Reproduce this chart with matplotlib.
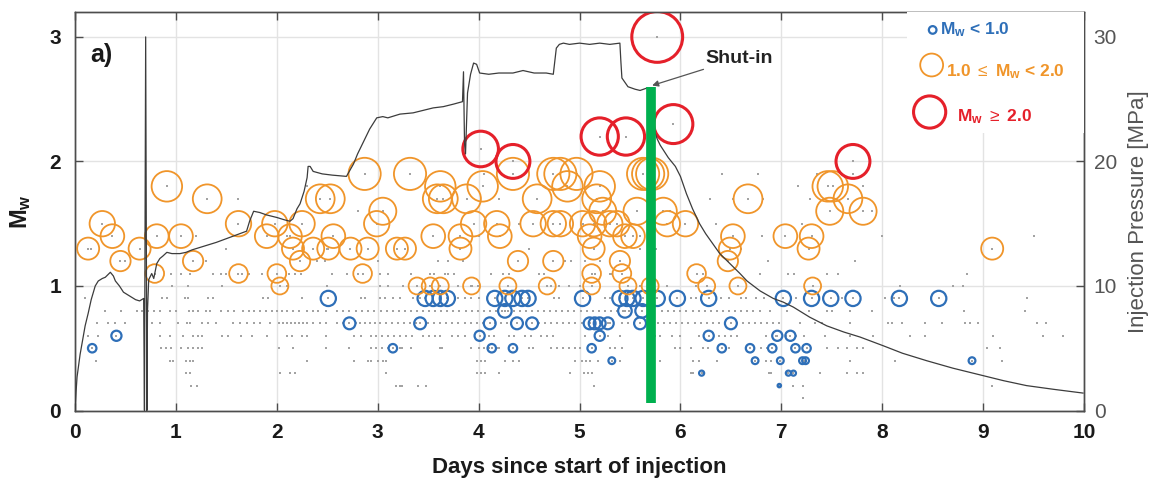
import matplotlib
matplotlib.use("Agg")
import matplotlib.pyplot as plt
from matplotlib.patches import Rectangle

plt.rcParams['font.family'] = ['Liberation Sans', 'DejaVu Sans']
plt.rcParams['mathtext.fontset'] = 'custom'
plt.rcParams['mathtext.rm'] = 'Liberation Sans'
plt.rcParams['mathtext.bf'] = 'Liberation Sans:bold'
plt.rcParams['mathtext.it'] = 'Liberation Sans:italic'

# ---------------- data ----------------
# Events with 1.0 <= Mw < 2.0 (day, Mw)
orange_day = [0.13, 0.27, 0.37, 0.45, 0.64, 0.79, 0.81, 0.91, 1.05, 1.17, 1.31, 1.62, 1.62,
              1.90, 1.98, 2.00, 2.03, 2.13, 2.16, 2.23, 2.25, 2.36, 2.43, 2.51, 2.53, 2.56,
              2.73, 2.85, 2.87, 2.90, 2.99, 3.05, 3.19, 3.27, 3.32, 3.39, 3.52, 3.55, 3.59,
              3.62, 3.62, 3.65, 3.82, 3.82, 3.88, 3.93, 3.95, 4.04, 4.18, 4.21, 4.29, 4.34,
              4.39, 4.54, 4.58, 4.68, 4.74, 4.74, 4.74, 4.81, 4.81, 4.88, 4.97, 5.03, 5.10,
              5.12, 5.12, 5.14, 5.14, 5.17, 5.20, 5.23, 5.30, 5.37, 5.40, 5.42, 5.45, 5.48,
              5.53, 5.57, 5.63, 5.68, 5.72, 5.70, 5.83, 5.87, 6.05, 6.16, 6.26, 6.47, 6.49,
              6.52, 6.57, 6.67, 7.04, 7.27, 7.30, 7.31, 7.46, 7.48, 7.51, 7.66, 7.81, 9.09]
orange_mw = [1.3, 1.5, 1.4, 1.2, 1.3, 1.1, 1.4, 1.8, 1.4, 1.2, 1.7, 1.5, 1.1,
             1.4, 1.5, 1.1, 1.0, 1.4, 1.3, 1.2, 1.5, 1.3, 1.7, 1.3, 1.7, 1.4,
             1.3, 1.1, 1.9, 1.3, 1.5, 1.6, 1.3, 1.3, 1.9, 1.0, 1.0, 1.4, 1.7,
             1.8, 1.0, 1.7, 1.4, 1.3, 1.7, 1.0, 1.5, 1.8, 1.5, 1.4, 1.0, 1.9,
             1.2, 1.5, 1.7, 1.0, 1.9, 1.5, 1.2, 1.9, 1.5, 1.8, 1.9, 1.5, 1.4,
             1.1, 1.0, 1.5, 1.3, 1.7, 1.8, 1.6, 1.5, 1.5, 1.2, 1.1, 1.4, 1.0,
             1.4, 1.6, 1.9, 1.9, 1.9, 1.0, 1.6, 1.5, 1.5, 1.1, 1.0, 1.2, 1.3,
             1.4, 1.0, 1.7, 1.4, 1.3, 1.4, 1.0, 1.8, 1.6, 1.8, 1.7, 1.6, 1.3]

# Events with Mw < 1.0
blue_day = [0.17, 0.41, 2.51, 2.72, 3.15, 3.42, 3.47, 3.55, 3.62, 3.69, 4.01, 4.11, 4.13,
            4.16, 4.26, 4.26, 4.34, 4.34, 4.38, 4.43, 4.49, 4.53, 5.03, 5.10, 5.12, 5.15,
            5.20, 5.20, 5.28, 5.32, 5.40, 5.45, 5.47, 5.53, 5.60, 5.62, 5.63, 5.77, 5.97,
            6.21, 6.28, 6.28, 6.41, 6.50, 6.69, 6.74, 6.91, 6.96, 6.98, 6.99, 7.02, 7.07,
            7.09, 7.12, 7.14, 7.21, 7.24, 7.25, 7.30, 7.49, 7.71, 8.17, 8.56, 8.89]
blue_mw = [0.5, 0.6, 0.9, 0.7, 0.5, 0.7, 0.9, 0.9, 0.9, 0.9, 0.6, 0.7, 0.5,
           0.9, 0.9, 0.8, 0.9, 0.5, 0.7, 0.9, 0.9, 0.7, 0.9, 0.7, 0.5, 0.7,
           0.7, 0.6, 0.7, 0.4, 0.9, 0.8, 0.9, 0.9, 0.7, 0.8, 0.9, 0.9, 0.9,
           0.3, 0.9, 0.6, 0.5, 0.7, 0.5, 0.4, 0.5, 0.6, 0.2, 0.4, 0.9, 0.3,
           0.6, 0.3, 0.5, 0.4, 0.4, 0.5, 0.9, 0.9, 0.9, 0.9, 0.9, 0.4]

# Events with Mw >= 2.0
red_day = [4.02, 4.34, 5.20, 5.46, 5.77, 5.93, 7.71]
red_mw = [2.1, 2.0, 2.2, 2.2, 3.0, 2.3, 2.0]

# Catalogue events without a magnitude class marker, grouped by Mw
dot_rows = {
    0.1: [7.21],
    0.2: [1.15, 1.21, 3.18, 3.22, 3.24, 3.40, 3.48, 5.14, 7.12, 7.21, 9.09],
    0.3: [1.10, 1.14, 2.03, 2.13, 2.18, 3.08, 3.98, 4.02, 4.06, 4.20, 4.91, 5.04, 5.08,
          5.12, 6.10, 6.12, 6.88, 6.90, 7.38, 7.65, 7.75, 7.81],
    0.4: [0.21, 0.94, 0.97, 1.10, 1.14, 1.17, 2.30, 2.76, 2.90, 2.93, 3.00, 3.05, 3.08,
          3.98, 4.02, 4.06, 4.26, 4.34, 4.40, 4.96, 5.02, 5.06, 5.10, 5.18, 5.40, 5.80,
          6.12, 6.18, 6.36, 6.85, 6.90, 7.23, 7.68, 8.13, 9.19],
    0.5: [0.85, 0.90, 0.95, 1.05, 1.12, 1.17, 1.22, 1.26, 2.02, 2.16, 2.49, 2.72, 2.93,
          2.98, 3.04, 3.10, 3.22, 3.24, 3.33, 3.62, 3.64, 3.92, 4.00, 4.05, 4.10, 4.18,
          4.20, 4.50, 4.54, 4.72, 4.78, 4.84, 4.90, 4.96, 5.00, 5.30, 5.35, 5.42, 5.95,
          6.00, 6.10, 6.22, 6.27, 6.48, 6.80, 6.86, 7.45, 7.56, 7.65, 7.75, 7.81, 9.04, 9.17],
    0.6: [0.13, 0.23, 0.84, 0.94, 1.07, 1.17, 1.22, 1.26, 1.46, 1.52, 1.64, 1.75, 1.90,
          2.10, 2.15, 2.25, 2.30, 2.49, 2.76, 2.83, 2.93, 2.98, 3.04, 3.10, 3.16, 3.22,
          3.28, 3.34, 3.45, 3.51, 3.57, 3.62, 3.74, 3.80, 3.86, 4.10, 4.15, 4.30, 4.35,
          4.46, 4.52, 4.62, 4.68, 4.74, 5.05, 5.28, 5.40, 5.75, 5.80, 5.92, 6.00, 6.18,
          6.38, 6.44, 6.50, 6.56, 6.85, 6.95, 7.05, 7.15, 7.22, 7.43, 7.68, 7.91, 8.28,
          8.42, 9.10, 9.59, 9.79],
    0.7: [0.22, 0.33, 0.40, 0.50, 0.76, 0.84, 1.02, 1.11, 1.14, 1.26, 1.32, 1.40, 1.57,
          1.63, 1.70, 1.77, 1.83, 1.93, 2.02, 2.06, 2.10, 2.14, 2.18, 2.22, 2.26, 2.30,
          2.36, 2.43, 2.49, 2.60, 2.66, 2.78, 2.82, 2.87, 2.92, 2.97, 3.02, 3.08, 3.14,
          3.20, 3.26, 3.32, 3.38, 3.50, 3.56, 3.62, 3.68, 3.74, 3.80, 3.86, 3.92, 3.98,
          4.04, 4.16, 4.22, 4.28, 4.44, 4.60, 4.66, 4.72, 4.78, 4.84, 4.90, 4.96, 5.02,
          5.30, 5.42, 5.48, 5.54, 5.66, 5.72, 5.78, 5.84, 5.90, 5.96, 6.02, 6.08, 6.14,
          6.20, 6.26, 6.32, 6.38, 6.56, 6.62, 6.68, 6.74, 6.80, 6.86, 6.92, 6.98, 7.19,
          7.33, 7.40, 7.68, 8.06, 8.10, 8.20, 8.42, 8.59, 8.82, 8.87, 8.95, 9.53, 9.62],
    0.8: [0.30, 0.46, 0.61, 0.66, 0.72, 0.78, 0.84, 0.94, 1.00, 1.13, 1.17, 1.22, 1.30,
          1.34, 1.45, 1.52, 1.58, 1.66, 1.72, 1.77, 1.83, 1.89, 1.95, 2.00, 2.05, 2.10,
          2.16, 2.22, 2.30, 2.36, 2.41, 2.49, 2.60, 2.66, 2.72, 2.78, 2.84, 2.90, 2.96,
          3.03, 3.09, 3.15, 3.21, 3.27, 3.33, 3.39, 3.45, 3.51, 3.57, 3.63, 3.69, 3.75,
          3.81, 3.87, 3.93, 3.99, 4.05, 4.11, 4.17, 4.23, 4.29, 4.35, 4.41, 4.47, 4.53,
          4.59, 4.65, 4.71, 4.77, 4.83, 4.89, 4.95, 5.01, 5.07, 5.13, 5.19, 5.25, 5.31,
          5.37, 5.43, 5.49, 5.82, 5.88, 5.94, 6.00, 6.06, 6.12, 6.18, 6.24, 6.30, 6.36,
          6.42, 6.48, 6.54, 6.60, 6.66, 6.72, 6.79, 6.89, 7.06, 7.27, 7.45, 7.50, 7.68,
          7.90, 8.81, 9.42],
    0.9: [0.10, 0.86, 0.91, 1.09, 1.12, 1.32, 1.37, 1.86, 1.91, 2.25, 2.83, 2.87, 3.02,
          3.07, 3.15, 3.22, 3.35, 3.42, 3.80, 3.86, 3.92, 4.00, 4.75, 4.80, 5.25, 5.30,
          5.85, 6.05, 6.10, 6.15, 6.40, 6.48, 6.60, 6.65, 6.75, 6.83, 7.15, 7.60, 8.03,
          8.12, 9.43],
    1.0: [0.96, 1.12, 1.46, 2.10, 2.50, 3.02, 3.10, 3.25, 3.80, 3.92, 3.99, 4.72, 4.80,
          4.90, 5.00, 5.60, 5.87, 6.15, 8.18, 8.70, 8.80],
    1.1: [0.95, 1.05, 1.14, 1.37, 1.45, 1.50, 1.65, 1.72, 1.85, 2.12, 2.18, 2.24, 2.55,
          2.70, 2.80, 3.02, 3.10, 3.33, 3.52, 3.56, 3.67, 3.70, 3.76, 4.12, 4.24, 4.30,
          4.60, 4.65, 5.15, 5.30, 5.32, 6.22, 6.79, 7.07, 7.13, 7.45, 7.56, 8.84],
    1.2: [0.50, 1.30, 2.40, 2.48, 3.00, 3.60, 3.70, 3.85, 4.86, 4.92, 5.05, 5.20, 6.87, 7.73],
    1.3: [0.16, 1.50, 2.50, 4.50, 5.60, 5.76, 6.60],
    1.4: [1.20, 2.10, 4.00, 5.60, 6.81, 8.00, 9.50],
    1.5: [4.40, 6.35, 7.20],
    1.6: [2.80, 5.90, 7.90],
    1.7: [1.62, 4.20, 6.29, 6.52, 6.82, 7.28],
    1.8: [2.30, 7.17, 7.81],
    1.9: [4.05, 6.41, 6.77, 7.35, 7.71],
}

# Injection pressure record (day, MPa)
pressure_day = [0.00, 0.01, 0.02, 0.05, 0.07, 0.10, 0.13, 0.16, 0.20, 0.23, 0.27, 0.30, 0.35,
                0.38, 0.40, 0.44, 0.48, 0.52, 0.56, 0.60, 0.64, 0.68, 0.688, 0.700, 0.712,
                0.718, 0.73, 0.76, 0.78, 0.81, 0.84, 0.87, 0.91, 0.96, 1.04, 1.10, 1.16,
                1.24, 1.32, 1.40, 1.50, 1.60, 1.70, 1.73, 1.77, 1.83, 1.90, 2.00, 2.08,
                2.13, 2.16, 2.20, 2.23, 2.27, 2.30, 2.31, 2.33, 2.36, 2.45, 2.55, 2.69,
                2.76, 2.80, 2.86, 2.92, 2.99, 3.05, 3.10, 3.22, 3.35, 3.45, 3.55, 3.65,
                3.75, 3.84, 3.85, 3.86, 3.87, 3.89, 3.92, 3.95, 3.98, 4.01, 4.10, 4.20,
                4.34, 4.44, 4.55, 4.67, 4.74, 4.77, 4.80, 4.84, 4.90, 5.00, 5.10, 5.20,
                5.30, 5.40, 5.41, 5.42, 5.48, 5.55, 5.60, 5.67, 5.71, 5.74, 5.77, 5.80,
                5.88, 5.95, 6.00, 6.06, 6.12, 6.19, 6.25, 6.32, 6.39, 6.49, 6.59, 6.66,
                6.79, 6.92, 7.02, 7.12, 7.28, 7.45, 7.62, 7.78, 8.01, 8.20, 8.44, 8.70,
                9.00, 9.20, 9.43, 9.70, 9.99]
pressure_mpa = [0.0, 1.5, 2.7, 4.5, 5.4, 6.8, 7.8, 8.9, 10.0, 10.4, 10.6, 10.7, 11.1,
                10.8, 10.4, 10.0, 9.5, 9.3, 9.1, 8.9, 8.8, 9.0, 0.0, 30.0, 0.0,
                8.0, 10.5, 11.0, 10.6, 11.8, 12.2, 12.4, 12.7, 12.6, 12.6, 12.7, 12.9,
                13.1, 13.3, 13.5, 13.8, 14.1, 14.4, 15.2, 16.0, 15.9, 15.7, 15.5, 15.3,
                15.2, 15.4, 16.2, 16.6, 17.6, 18.7, 19.6, 19.6, 19.2, 19.0, 18.9, 18.8,
                19.8, 20.6, 21.6, 22.6, 23.5, 23.6, 23.5, 23.8, 23.9, 24.1, 24.3, 24.4,
                24.6, 24.8, 27.2, 21.5, 20.6, 25.5, 27.0, 27.9, 27.8, 27.1, 27.0, 27.1,
                27.1, 27.3, 27.1, 27.1, 27.0, 29.1, 29.4, 29.5, 29.4, 29.5, 29.4, 29.5,
                29.4, 29.5, 28.0, 26.7, 26.0, 25.8, 25.7, 25.9, 25.5, 22.5, 21.8, 21.3,
                20.3, 19.6, 18.8, 17.4, 16.2, 15.0, 14.2, 13.4, 12.6, 11.8, 11.0, 10.4,
                9.6, 9.0, 8.7, 8.3, 7.5, 6.8, 6.3, 5.9, 5.2, 4.6, 4.0, 3.4,
                2.8, 2.4, 2.0, 1.7, 1.4]

shut_in_day = 5.71
shut_in_bar = (0.06, 2.6)

x_ticks = [0, 1, 2, 3, 4, 5, 6, 7, 8, 9, 10]
mw_ticks = [0, 1, 2, 3]
p_ticks = [0, 10, 20, 30]

# ---------------- styling ----------------
C_BLUE = '#2e6fb8'
C_ORANGE = '#f0952a'
C_RED = '#e5202a'
C_DOT = '#a3a3a3'
C_LINE = '#3c3c3c'
C_AX = '#4d4d4d'


def msize(mw):
    # circle area grows with magnitude (diameter proportional to Mw)
    return (12.2 * mw) ** 2


fig = plt.figure(figsize=(11.51, 4.78), dpi=100)
ax = fig.add_axes([0.0652, 0.1412, 0.8766, 0.8337])
ax2 = ax.twinx()

ax.set_xlim(0, 10)
ax.set_ylim(0, 3.2)
ax2.set_ylim(0, 32)

ax.set_axisbelow(True)
ax.grid(True, color='#e3e3e3', linewidth=1.0)

# catalogue dots
dot_x, dot_y = [], []
for mw, days in dot_rows.items():
    dot_x.extend(days)
    dot_y.extend([mw] * len(days))
ax.scatter(dot_x + orange_day + blue_day + red_day,
           dot_y + orange_mw + blue_mw + red_mw,
           s=3, marker='s', color=C_DOT, linewidths=0, zorder=2)

ax.scatter(blue_day, blue_mw, s=[msize(m) for m in blue_mw], facecolors='none',
           edgecolors=C_BLUE, linewidths=1.6, zorder=3)
ax.scatter(orange_day, orange_mw, s=[msize(m) for m in orange_mw], facecolors='none',
           edgecolors=C_ORANGE, linewidths=1.3, zorder=3)
ax.scatter(red_day, red_mw, s=[msize(m) for m in red_mw], facecolors='none',
           edgecolors=C_RED, linewidths=2.2, zorder=4)

# injection pressure
ax2.plot(pressure_day, pressure_mpa, color=C_LINE, linewidth=0.9, zorder=3)

# shut-in marker
ax2.plot([shut_in_day, shut_in_day], [v * 10 for v in shut_in_bar], color='#00b04f',
         linewidth=7, solid_capstyle='butt', zorder=6)
ax2.annotate('Shut-in', xy=(5.72, 26.1), xytext=(6.25, 28.3), fontsize=14,
             fontweight='bold', color='#222222', va='center', ha='left',
             arrowprops=dict(arrowstyle='-|>', color='#555555', lw=0.9,
                             mutation_scale=9, shrinkA=0, shrinkB=0), zorder=7)

# axes cosmetics
for a in (ax, ax2):
    for sp in a.spines.values():
        sp.set_color(C_AX)
        sp.set_linewidth(1.0)

ax.set_xticks(x_ticks)
ax.set_yticks(mw_ticks)
ax.tick_params(axis='both', direction='in', length=6, width=1, color=C_AX,
               top=True, labelsize=15, labelcolor='#1a1a1a')
ax.tick_params(axis='x', pad=9)
ax.tick_params(axis='y', pad=10)
for lbl in ax.get_xticklabels() + ax.get_yticklabels():
    lbl.set_fontweight('bold')
ax2.set_yticks(p_ticks)
ax2.tick_params(axis='y', direction='in', length=6, width=1, color=C_AX,
                labelsize=15, labelcolor='#555555', pad=7)

ax.set_xlabel('Days since start of injection', fontsize=16, fontweight='bold',
              color='#1a1a1a', labelpad=11)
ax.set_ylabel(r'$\mathbf{M_w}$', fontsize=17, color='#1a1a1a', labelpad=12)
ax2.set_ylabel('Injection Pressure [MPa]', fontsize=16, color='#555555', labelpad=8)

ax.text(0.015, 0.892, 'a)', transform=ax.transAxes, fontsize=18, fontweight='bold',
        color='#1a1a1a', va='center', ha='left')

# magnitude key
ax2.add_patch(Rectangle((0.825, 0.696), 0.175, 0.304, transform=ax2.transAxes,
                        facecolor='white', edgecolor='none', zorder=5))
key_x = [0.850, 0.849, 0.847]
key_y = [0.955, 0.867, 0.749]
key_mw = [0.45, 1.35, 1.9]
key_col = [C_BLUE, C_ORANGE, C_RED]
key_lw = [1.6, 1.3, 2.2]
key_txt = [r'$\mathbf{M_w}$ < 1.0', r'1.0 $\leq$ $\mathbf{M_w}$ < 2.0',
           r'$\mathbf{M_w}$ $\geq$ 2.0']
key_tx = [0.857, 0.863, 0.874]
key_ty = [0.955, 0.850, 0.737]
for i in range(3):
    ax2.scatter([key_x[i]], [key_y[i]], s=msize(key_mw[i]), transform=ax2.transAxes,
                facecolors='none', edgecolors=key_col[i], linewidths=key_lw[i],
                zorder=6, clip_on=False)
    ax2.text(key_tx[i], key_ty[i], key_txt[i], transform=ax2.transAxes, fontsize=12.5,
             fontweight='bold', color=key_col[i], va='center', ha='left', zorder=6)

fig.savefig('out.png', dpi=100, facecolor='white')
